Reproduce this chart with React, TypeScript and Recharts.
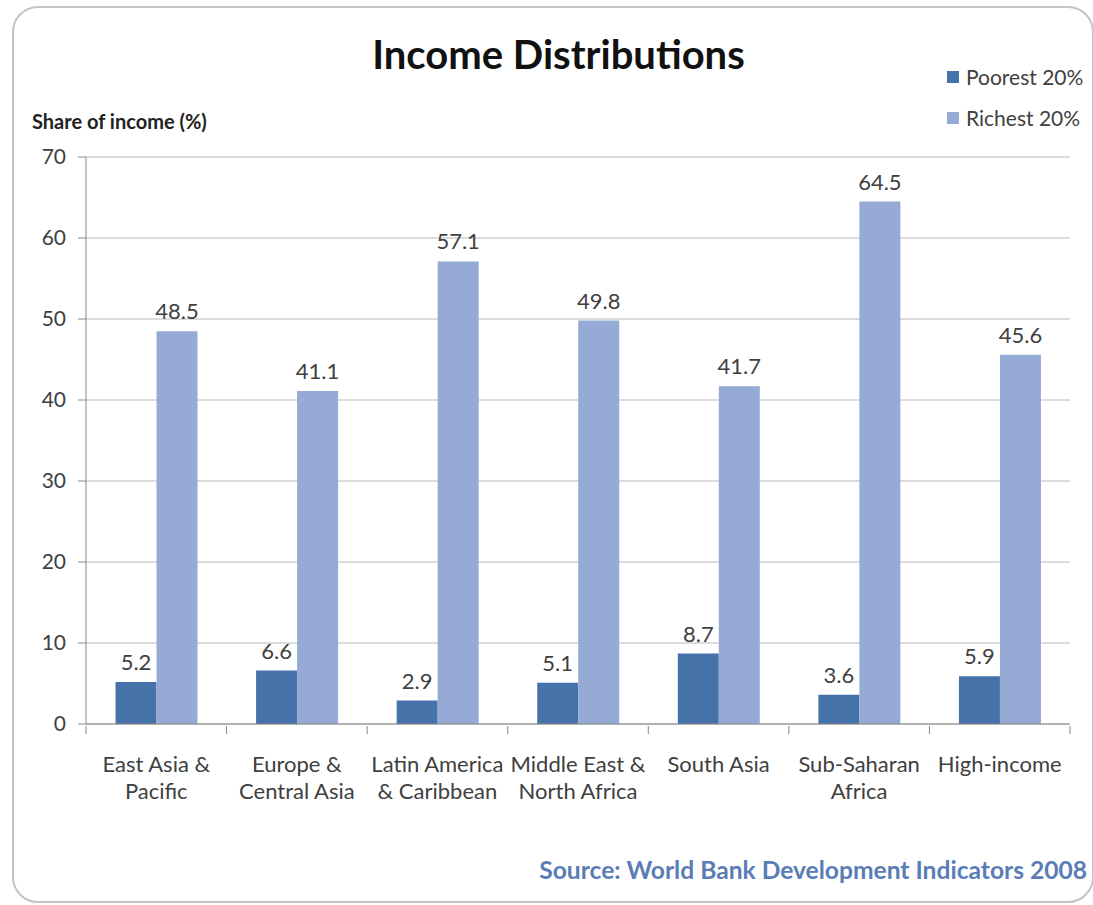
import { BarChart, Bar, XAxis, YAxis, CartesianGrid, LabelList } from 'recharts'

const regions = [
  'East Asia & Pacific',
  'Europe & Central Asia',
  'Latin America & Caribbean',
  'Middle East & North Africa',
  'South Asia',
  'Sub-Saharan Africa',
  'High-income',
]
const regionLines = [
  ['East Asia &', 'Pacific'],
  ['Europe &', 'Central Asia'],
  ['Latin America', '& Caribbean'],
  ['Middle East &', 'North Africa'],
  ['South Asia'],
  ['Sub-Saharan', 'Africa'],
  ['High-income'],
]
const poorest = [5.2, 6.6, 2.9, 5.1, 8.7, 3.6, 5.9]
const richest = [48.5, 41.1, 57.1, 49.8, 41.7, 64.5, 45.6]
const yTicks = [0, 10, 20, 30, 40, 50, 60, 70]
const seriesNames = ['Poorest 20%', 'Richest 20%']

const data = regions.map((region, i) => ({ region, poorest: poorest[i], richest: richest[i] }))

const FONT = 'Lato, "Open Sans", sans-serif'
const TEXT = '#404040'
const DARK = '#4672aa'
const LIGHT = '#95abd5'

// Excel-style: tick marks sit between categories, labels centred
function RegionTick(props: any) {
  const { x, y, payload, index } = props
  const half = payload?.offset ?? 70
  const lines = regionLines[index] ?? [payload.value]
  return (
    <g>
      <line x1={x - half} y1={y} x2={x - half} y2={y + 8} stroke="#888" />
      {index === regions.length - 1 && <line x1={x + half} y1={y} x2={x + half} y2={y + 8} stroke="#888" />}
      <text x={x} y={y + 46} textAnchor="middle" fill={TEXT} fontSize={22} fontFamily={FONT}>
        {lines.map((l: string, k: number) => (
          <tspan key={k} x={x} dy={k === 0 ? 0 : 27}>
            {l}
          </tspan>
        ))}
      </text>
    </g>
  )
}

export default function App() {
  return (
    <div style={{ position: 'absolute', left: 0, top: 0, width: 1093, height: 905, background: '#fff', overflow: 'hidden' }}>
      <div
        style={{
          position: 'absolute',
          left: 12,
          top: 6,
          width: 1078,
          height: 893,
          border: '2px solid #c4c4c4',
          borderRadius: 26,
        }}
      />
      <div
        style={{
          position: 'absolute',
          left: 0,
          width: 1093,
          top: 30,
          textAlign: 'center',
          fontFamily: FONT,
          fontWeight: 700,
          fontSize: 40,
          lineHeight: '48px',
          color: '#111',
          paddingLeft: 24,
          boxSizing: 'border-box',
        }}
      >
        Income Distributions
      </div>
      <div
        style={{
          position: 'absolute',
          left: 32,
          top: 109,
          fontFamily: FONT,
          fontWeight: 700,
          fontSize: 20,
          lineHeight: '24px',
          color: '#222',
        }}
      >
        Share of income (%)
      </div>
      <div style={{ position: 'absolute', left: 947, top: 56, fontFamily: FONT, fontSize: 21, color: TEXT }}>
        {seriesNames.map((name, i) => (
          <div key={name} style={{ display: 'flex', alignItems: 'center', height: 41 }}>
            <span
              style={{ width: 12, height: 12, background: i === 0 ? DARK : LIGHT, marginRight: 7, display: 'inline-block' }}
            />
            {name}
          </div>
        ))}
      </div>
      <div
        style={{
          position: 'absolute',
          right: 6,
          top: 855,
          fontFamily: FONT,
          fontWeight: 700,
          fontSize: 24.6,
          lineHeight: '30px',
          color: '#5a7db6',
        }}
      >
        Source: World Bank Development Indicators 2008
      </div>
      <div style={{ position: 'absolute', left: 0, top: 0 }}>
        <BarChart
          width={1093}
          height={905}
          data={data}
          margin={{ top: 157, right: 23, bottom: 0, left: 0 }}
          barGap={0}
          barCategoryGap="21%"
        >
          <CartesianGrid vertical={false} stroke="#b8b8b8" />
          <XAxis
            dataKey="region"
            tick={<RegionTick />}
            tickLine={false}
            tickSize={0}
            stroke="#888"
            interval={0}
            height={181}
          />
          <YAxis
            domain={[0, 70]}
            ticks={yTicks}
            width={86}
            stroke="#888"
            tickSize={8}
            tick={{ fill: TEXT, fontSize: 21, fontFamily: FONT }}
            tickMargin={12}
          />
          <Bar dataKey="poorest" name={seriesNames[0]} fill={DARK} isAnimationActive={false}>
            <LabelList dataKey="poorest" position="top" offset={12} fill={TEXT} fontSize={22} fontFamily={FONT} />
          </Bar>
          <Bar dataKey="richest" name={seriesNames[1]} fill={LIGHT} isAnimationActive={false}>
            <LabelList dataKey="richest" position="top" offset={12} fill={TEXT} fontSize={22} fontFamily={FONT} />
          </Bar>
        </BarChart>
      </div>
    </div>
  )
}
